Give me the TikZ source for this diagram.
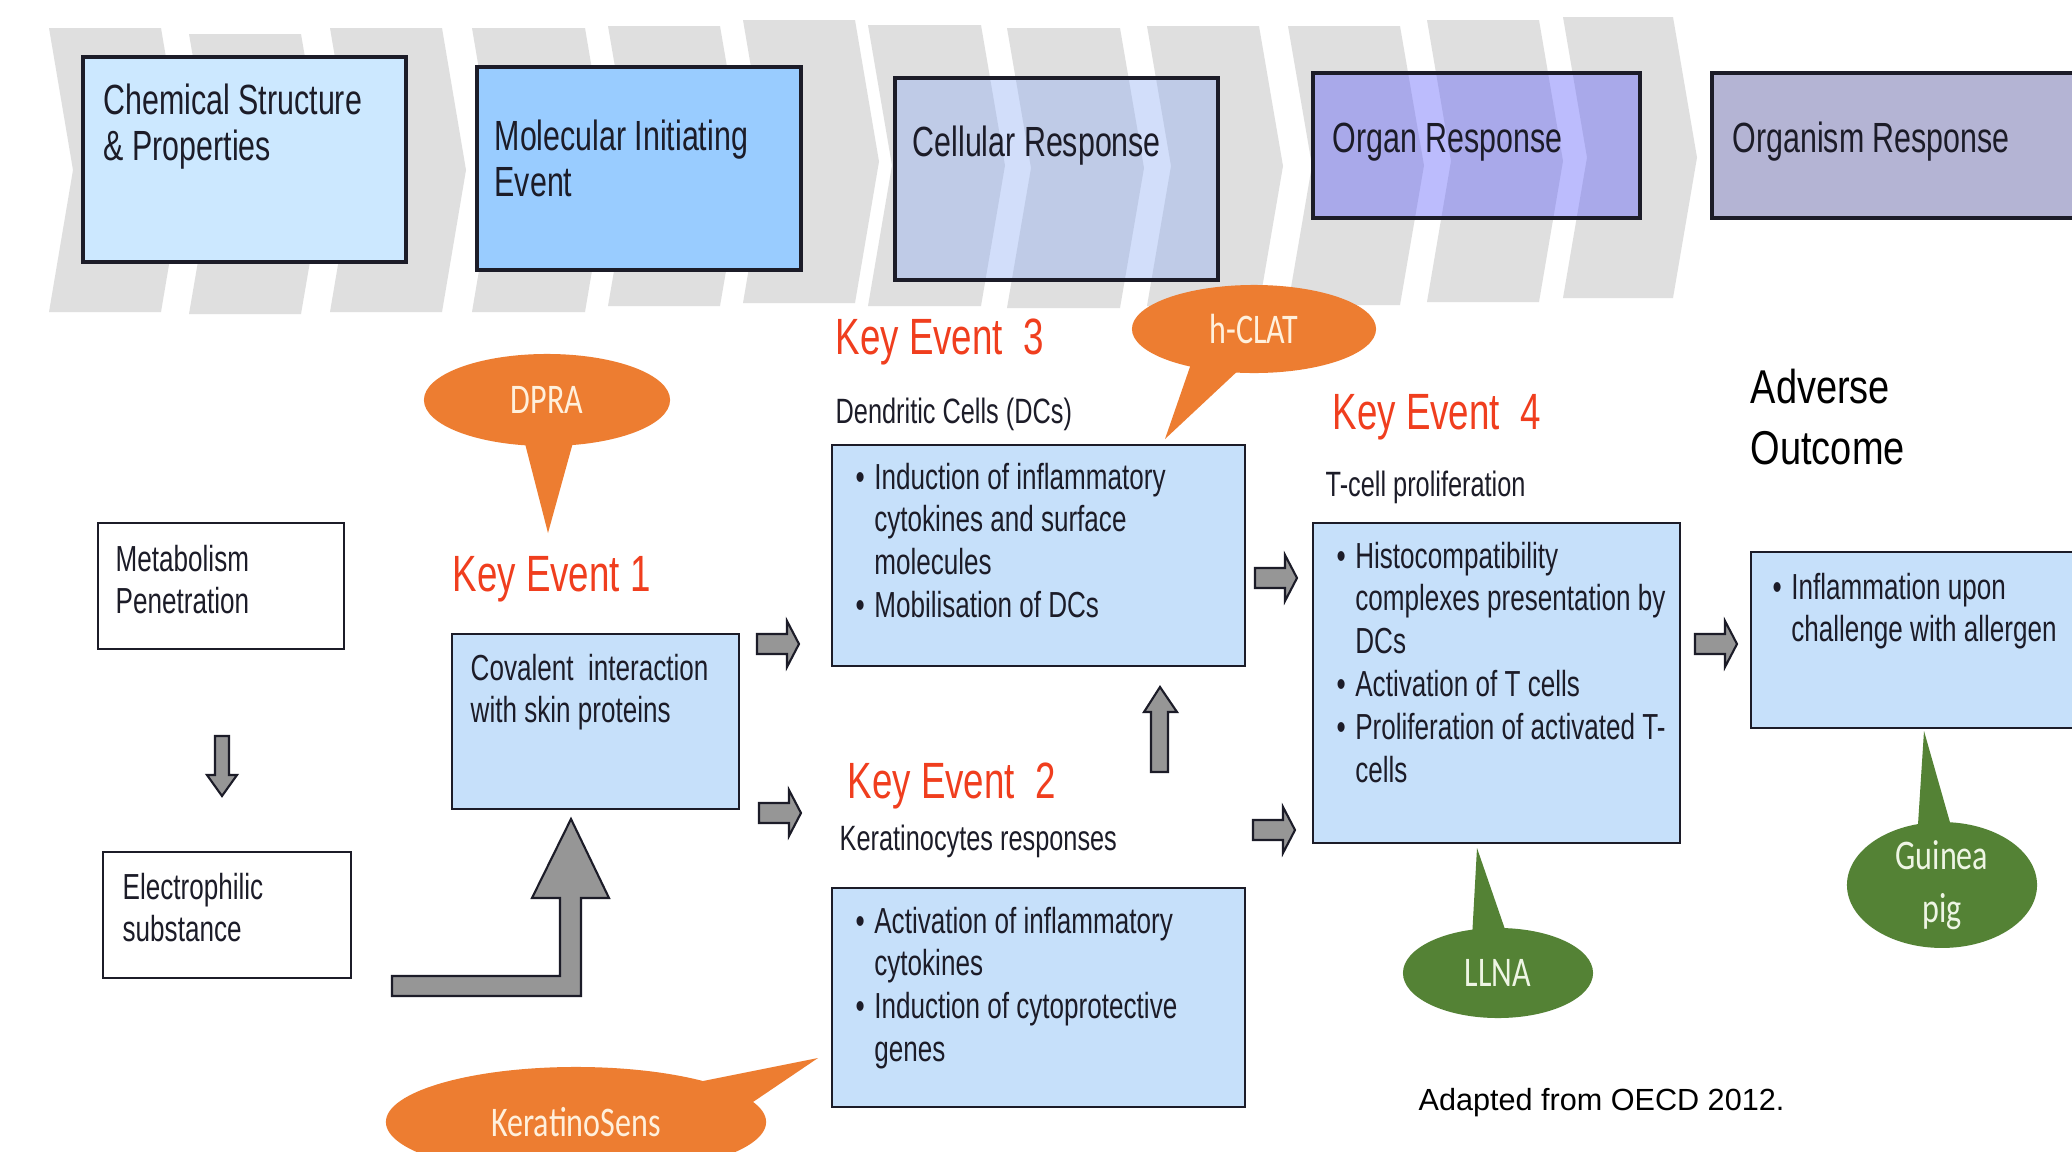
\documentclass[tikz,border=0pt]{standalone}
\usepackage{fontspec}
\setmainfont{Liberation Sans}
\newfontfamily\nar{Liberation Sans}[FakeStretch=0.72]
\newfontfamily\narb{Liberation Sans}[FakeStretch=0.8]
\newfontfamily\calnar{Carlito}[FakeStretch=0.76]
\usetikzlibrary{shapes.geometric,calc}
\definecolor{chev}{RGB}{223,223,223}
\definecolor{chemfill}{RGB}{204,232,255}
\definecolor{miefill}{RGB}{153,204,255}
\definecolor{cellfill}{RGB}{144,174,244}
\definecolor{organfill}{RGB}{89,89,251}
\definecolor{organismfill}{RGB}{180,180,212}
\definecolor{boxblue}{RGB}{198,224,250}
\definecolor{kered}{RGB}{240,62,30}
\definecolor{calor}{RGB}{237,125,49}
\definecolor{calgr}{RGB}{84,130,53}
\definecolor{arrgrey}{RGB}{150,150,150}
\definecolor{txtdark}{RGB}{28,28,40}
\definecolor{ortext}{RGB}{255,240,220}
\definecolor{grtext}{RGB}{238,245,228}
\newlength\bind
\setlength\bind{5.3pt}
\newcommand\bu{\makebox[\bind][l]{\textbullet}}
\newcommand\tlines[1]{\begin{tabular}[t]{@{}l@{}}#1\end{tabular}}
\newcommand\blist[1]{\begin{tabular}[t]{@{}l@{}l@{}}#1\end{tabular}}
\begin{document}
\begin{tikzpicture}[x=0.01cm,y=-0.01cm,
  topbox/.style={draw=txtdark,line width=1pt,anchor=north west,inner sep=0pt,outer sep=0pt},
  lowbox/.style={draw=txtdark,line width=0.7pt,fill=boxblue,anchor=north west,inner sep=0pt,outer sep=0pt},
  plainbox/.style={draw=txtdark,line width=0.7pt,fill=white,anchor=north west,inner sep=0pt,outer sep=0pt},
  toptext/.style={anchor=base west,inner sep=0pt,text=txtdark,font=\nar\fontsize{12pt}{13.1pt}\selectfont},
  bodytext/.style={anchor=base west,inner sep=0pt,text=txtdark,font=\nar\fontsize{10.3pt}{12.2pt}\selectfont},
  subtext/.style={anchor=base west,inner sep=0pt,text=txtdark,font=\nar\fontsize{10pt}{12pt}\selectfont},
  kelabel/.style={anchor=base west,inner sep=0pt,text=kered,font=\nar\fontsize{14.5pt}{17pt}\selectfont},
  orcall/.style={ellipse,fill=calor,inner sep=0pt,text=ortext,font=\calnar\fontsize{12pt}{15pt}\selectfont},
  grcall/.style={ellipse,fill=calgr,inner sep=0pt,text=grtext,align=center,font=\calnar\fontsize{12pt}{15pt}\selectfont},
  blockarr/.style={fill=arrgrey,draw=txtdark,line width=0.6pt,line join=miter},
  rarr/.pic={\path[blockarr] (0,-10) -- (30,-10) -- (30,-23) -- (42,0) -- (30,23) -- (30,10) -- (0,10) -- cycle;}
]
\useasboundingbox (0,0) rectangle (2072,1151);
\fill[white] (0,0) rectangle (2072,1151);

% chevron band
\foreach \xa/\t/\b/\w in {49/28/312/112, 189/34/314/112, 330/28/312/112, 472/28/312/113, 608/26/306/112, 743/20/303/112, 868/25/306/113, 1007/28/308/113, 1147/26/306/112, 1288/26/305/112, 1427/20/302/112, 1563/17/298/110}
  \fill[chev] (\xa,\t) -- ({\xa+\w},\t) -- ({\xa+\w+24},{(\t+\b)/2}) -- ({\xa+\w},\b) -- (\xa,\b) -- ({\xa+24},{(\t+\b)/2}) -- cycle;

% top boxes
\node[topbox,fill=chemfill,minimum width=3.23cm,minimum height=2.05cm] (chem) at (83,57) {};
\node[toptext] (chemtxt) at (103,114) {\tlines{Chemical Structure\\\& Properties}};
\node[topbox,fill=miefill,minimum width=3.24cm,minimum height=2.03cm] (mie) at (477,67) {};
\node[toptext] (mietxt) at (494,150) {\tlines{Molecular Initiating\\Event}};
\node[topbox,fill=cellfill,fill opacity=0.4,minimum width=3.23cm,minimum height=2.02cm] (cell) at (895,78) {};
\node[toptext] (celltxt) at (912,156) {Cellular Response};
\node[topbox,fill=organfill,fill opacity=0.4,minimum width=3.27cm,minimum height=1.45cm] (organ) at (1313,73) {};
\node[toptext] (organtxt) at (1332,152) {Organ Response};
\node[topbox,fill=organismfill,minimum width=4.2cm,minimum height=1.45cm] (organism) at (1712,73) {};
\node[toptext] (organismtxt) at (1732,152) {Organism Response};

% left column
\node[plainbox,minimum width=2.46cm,minimum height=1.26cm] (meta) at (98,523) {};
\node[bodytext] (metatxt) at (115,571) {\tlines{Metabolism\\Penetration}};
\node[plainbox,minimum width=2.48cm,minimum height=1.26cm] (elec) at (103,852) {};
\node[bodytext] (electxt) at (122,899) {\tlines{Electrophilic\\substance}};
\path[blockarr] (215,736) -- (229,736) -- (229,775) -- (237,775) -- (222,796) -- (207,775) -- (215,775) -- cycle;

% key event 1
\node[kelabel] (ke1lab) at (452,591) {Key Event 1};
\node[lowbox,minimum width=2.87cm,minimum height=1.75cm] (cov) at (452,634) {};
\node[bodytext] (covtxt) at (470,680) {\tlines{Covalent\ \ interaction\\with skin proteins}};
\path[blockarr] (392,976) -- (560,976) -- (560,898) -- (532,898) -- (571,819) -- (609,898) -- (581,898) -- (581,996) -- (392,996) -- cycle;
\node[orcall,minimum width=2.46cm,minimum height=0.92cm] (dpra) at (547,400) {DPRA};
\coordinate (dpratip) at (548,533);
\fill[calor] ($(dpra.center)+(-26,28)$) -- (dpratip) -- ($(dpra.center)+(30,28)$) -- cycle;

% key event 3
\node[kelabel] (ke3lab) at (835,354) {Key Event\ \ 3};
\node[subtext] (ke3sub) at (835,423) {Dendritic Cells (DCs)};
\node[lowbox,minimum width=4.13cm,minimum height=2.21cm] (ke3) at (832,445) {};
\node[bodytext] (ke3txt) at (855,489) {\blist{\bu & Induction of inflammatory\\ & cytokines and surface\\ & molecules\\ \bu & Mobilisation of DCs}};
\node[orcall,minimum width=2.44cm,minimum height=0.88cm] (hclat) at (1254,329) {h-CLAT};
\coordinate (hclattip) at (1165,439);
\fill[calor] ($(hclat.center)+(-62,32)$) -- (hclattip) -- ($(hclat.center)+(-12,38)$) -- cycle;

% key event 2
\node[kelabel] (ke2lab) at (847,798) {Key Event\ \ 2};
\node[subtext] (ke2sub) at (839,850) {Keratinocytes responses};
\node[lowbox,minimum width=4.13cm,minimum height=2.19cm] (ke2) at (832,888) {};
\node[bodytext] (ke2txt) at (855,933) {\blist{\bu & Activation of inflammatory\\ & cytokines\\ \bu & Induction of cytoprotective\\ & genes}};
\node[orcall,minimum width=3.8cm,minimum height=1.1cm] (kera) at (576,1122) {KeratinoSens};
\coordinate (keratip) at (818,1058);
\fill[calor] ($(kera.center)+(112,-38)$) -- (keratip) -- ($(kera.center)+(174,-18)$) -- cycle;

% key event 4
\node[kelabel] (ke4lab) at (1332,429) {Key Event\ \ 4};
\node[subtext] (ke4sub) at (1325,496) {T-cell proliferation};
\node[lowbox,minimum width=3.67cm,minimum height=3.20cm] (ke4) at (1313,523) {};
\node[bodytext] (ke4txt) at (1336,568) {\blist{\bu & Histocompatibility\\ & complexes presentation by\\ & DCs\\ \bu & Activation of T cells\\ \bu & Proliferation of activated T-\\ & cells}};
\node[grcall,minimum width=1.9cm,minimum height=0.9cm] (llna) at (1498,973) {LLNA};
\coordinate (llnatip) at (1477,848);
\fill[calgr] ($(llna.center)+(-26,-35)$) -- (llnatip) -- ($(llna.center)+(10,-35)$) -- cycle;

% adverse outcome
\node[anchor=base west,inner sep=0pt,text=black,font=\narb\fontsize{13.5pt}{17.6pt}\selectfont] (aolab) at (1750,403) {\tlines{Adverse\\Outcome}};
\node[lowbox,minimum width=4.2cm,minimum height=1.76cm] (ao) at (1751,552) {};
\node[bodytext] (aotxt) at (1772,599) {\blist{\bu & Inflammation\ upon\\ & challenge with allergen}};
\node[grcall,minimum width=1.9cm,minimum height=1.2cm] (guinea) at (1942,885) {Guinea\\pig};
\coordinate (guineatip) at (1924,731);
\fill[calgr] ($(guinea.center)+(-25,-45)$) -- (guineatip) -- ($(guinea.center)+(13,-45)$) -- cycle;

% small block arrows
\pic at (757,644) {rarr};
\pic at (759,813) {rarr};
\pic at (1255,578) {rarr};
\pic at (1253,830) {rarr};
\pic at (1695,644) {rarr};
\path[blockarr] (1151,772) -- (1151,712) -- (1144,712) -- (1160,687) -- (1177,712) -- (1168,712) -- (1168,772) -- cycle;

\node[anchor=base west,inner sep=0pt,font=\fontsize{8.7pt}{10pt}\selectfont] (src) at (1418,1110) {Adapted from OECD 2012.};
\end{tikzpicture}
\end{document}
